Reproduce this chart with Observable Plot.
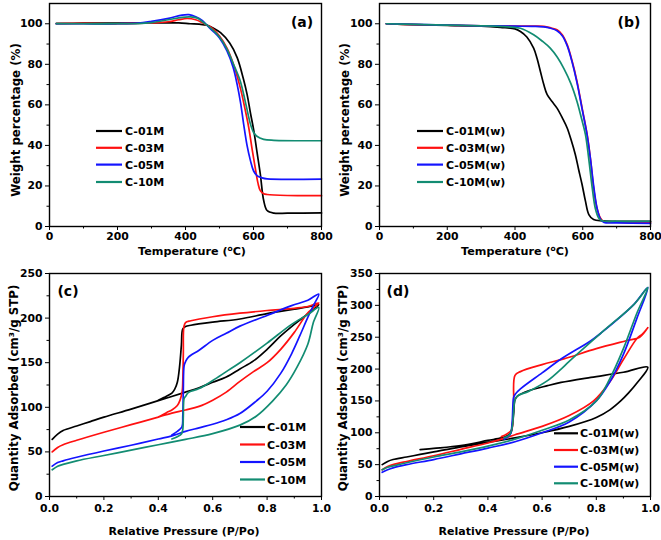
<!DOCTYPE html>
<html>
<head>
<meta charset="utf-8">
<script src="https://cdn.jsdelivr.net/npm/d3@7"></script>
<script src="https://cdn.jsdelivr.net/npm/@observablehq/plot@0.6"></script>
<style>
  body { margin: 0; background: #fff; }
  #root { position: relative; width: 661px; height: 540px; overflow: hidden; background: #fff; }
  #root svg { position: absolute; }
</style>
</head>
<body>
<div id="root"></div>
<script>
// ---------- DATA ----------
const namesA = ["C-01M", "C-03M", "C-05M", "C-10M"];
const namesB = ["C-01M(w)", "C-03M(w)", "C-05M(w)", "C-10M(w)"];

// (a) TGA, temperature (°C) vs weight (%)
const a_C01M = [[20,100.2],[100,100.3],[200,100.3],[300,100.4],[380,100.4],[414,100],[440,99.8],[463,99.3],[480,98],[503,95.6],[530,90.5],[552,83.3],[570,73],[581,65.3],[591,56],[601,47.2],[610,37],[620,25.9],[630,12.8],[640,7.9],[660,6.6],[700,6.6],[800,6.7]];
const a_C03M = [[20,100],[100,100.2],[200,100],[300,100.4],[350,101],[380,102],[405,102.6],[430,102],[450,100.5],[463,99.3],[473,98.5],[500,94],[522,88],[540,80.5],[561,68.5],[575,58],[586,48.8],[596,38],[605,29],[613,21.5],[620,17.7],[630,16.2],[640,15.8],[700,15.3],[800,15.2]];
const a_C05M = [[20,100],[100,100],[200,100],[260,100.3],[300,101.2],[350,102.7],[390,104.3],[410,104.5],[430,103.5],[450,101.5],[463,99.3],[480,96.5],[500,93],[522,86.6],[540,78.5],[552,70],[562,61],[571,50.5],[581,40],[591,32.5],[600,27.5],[611,25],[625,24],[640,23.5],[800,23.4]];
const a_C10M = [[20,100],[100,100],[200,100],[260,100.1],[300,100.6],[350,102],[390,103.2],[415,103.4],[435,102.8],[450,101],[463,99.3],[480,97],[500,93.5],[522,87.5],[540,80.5],[561,71.8],[576,61.5],[591,50.5],[600,46.5],[610,44.5],[630,43],[660,42.5],[800,42.3]];

// (b) TGA of washed samples
const b_C01M = [[20,100],[100,99.6],[200,99.2],[300,98.8],[357,98.2],[400,97.5],[416,96.2],[435,93.5],[455,88],[465,83],[475,76.5],[485,70],[495,65],[510,61.5],[524,58.4],[540,53.5],[554,48.6],[566,42.5],[578,35.5],[588,28],[598,20.7],[608,12.5],[618,5.9],[632,3.4],[660,2.8],[800,2.5]];
const b_C03M = [[20,100],[100,99.6],[200,99.3],[300,99],[400,98.9],[450,98.8],[485,98.7],[505,98],[524,97],[540,94.5],[554,89.7],[568,82],[583,71.6],[598,58.5],[613,45.3],[623,33],[632,19],[642,9],[652,4.2],[662,2.5],[700,2.2],[800,2]];
const b_C05M = [[20,100],[100,99.7],[200,99.3],[300,99],[400,98.8],[450,98.7],[485,98.5],[505,97.8],[524,96.6],[540,94],[554,89.2],[568,81.5],[583,71],[598,58],[613,45],[623,33],[633,19],[643,8.5],[653,3.5],[663,2],[700,1.8],[800,1.5]];
const b_C10M = [[20,100],[100,99.7],[200,99.3],[300,99],[380,98.5],[416,97.8],[455,94.6],[480,91.5],[504,88],[525,83.5],[544,78],[565,70.5],[583,61.7],[596,53.5],[608,45.3],[618,33],[628,19],[637,9],[647,4.2],[657,2.8],[700,2.6],[800,2.6]];

// (c) N2 isotherms, P/Po vs quantity adsorbed (adsorption then desorption)
const c_C01M = [[0.01,64],[0.03,70],[0.05,74],[0.1,79],[0.15,84],[0.2,89],[0.3,98],[0.4,107.5],[0.5,117],[0.55,122],[0.6,128],[0.65,134],[0.7,143],[0.75,152],[0.8,165],[0.85,180],[0.9,193],[0.95,205],[0.99,215],
  [0.95,212.5],[0.9,210],[0.8,205],[0.7,199],[0.6,195.5],[0.52,192],[0.5,190.5],[0.49,188],[0.485,170],[0.478,145],[0.47,128],[0.46,120],[0.45,116],[0.42,111],[0.4,108]];
const c_C03M = [[0.01,50],[0.03,55],[0.05,58],[0.1,63],[0.2,72],[0.3,80.5],[0.4,89],[0.45,93.5],[0.5,97],[0.55,101],[0.6,108],[0.65,117],[0.7,129],[0.75,140],[0.8,150],[0.85,165],[0.9,184],[0.95,206],[0.99,217],
  [0.95,213],[0.9,211],[0.8,208.5],[0.7,205.5],[0.6,201.5],[0.52,197],[0.5,195],[0.494,190],[0.492,160],[0.49,130],[0.488,118],[0.48,108],[0.47,102],[0.45,97],[0.43,94],[0.4,89]];
const c_C05M = [[0.01,34],[0.03,38],[0.05,40],[0.1,44],[0.2,51],[0.3,57.5],[0.4,64.5],[0.45,68],[0.5,73],[0.55,77],[0.6,81],[0.65,86],[0.7,93],[0.76,107],[0.8,118],[0.85,138],[0.89,160],[0.92,180],[0.95,201],[0.97,214],[0.99,227],
  [0.95,220],[0.89,214],[0.8,203],[0.7,191],[0.65,183],[0.6,175],[0.55,164],[0.51,156],[0.5,151],[0.495,146.7],[0.492,120],[0.49,90],[0.487,78],[0.47,73],[0.45,69]];
const c_C10M = [[0.01,30],[0.03,34],[0.05,36],[0.1,40],[0.2,46],[0.3,52],[0.4,58],[0.5,64],[0.6,70.5],[0.7,80],[0.76,90],[0.82,107],[0.87,125],[0.91,145],[0.95,171],[0.97,195],[0.99,212],
  [0.95,204],[0.89,193],[0.8,172],[0.7,150],[0.65,140],[0.6,130],[0.55,121],[0.51,116.5],[0.5,112],[0.495,110],[0.492,90],[0.49,75],[0.485,70],[0.47,67],[0.45,64.5]];

// (d) N2 isotherms of washed samples
const d_C01M = [[0.01,50],[0.03,55],[0.05,58],[0.1,62],[0.15,66],[0.2,70],[0.3,78],[0.4,85],[0.5,92],[0.6,100],[0.7,110],[0.8,124],[0.85,136],[0.89,150],[0.92,163],[0.95,178],[0.99,203],
  [0.9,195],[0.78,187],[0.67,179],[0.62,174],[0.55,166],[0.51,158],[0.5,152],[0.495,130],[0.49,110],[0.485,100],[0.47,95],[0.45,92],[0.4,88],[0.3,80],[0.2,75.5],[0.15,73.5]];
const d_C03M = [[0.01,42],[0.03,47],[0.05,50],[0.1,55],[0.2,64],[0.3,74],[0.4,84],[0.45,90],[0.5,97],[0.6,110],[0.7,127],[0.79,150],[0.85,180],[0.9,215],[0.95,248],[0.97,255],[0.99,265],
  [0.96,250],[0.91,244.5],[0.8,232],[0.68,216],[0.6,207],[0.52,196],[0.5,190],[0.495,150],[0.492,120],[0.488,105],[0.47,98],[0.45,94]];
const d_C05M = [[0.01,38],[0.03,42],[0.05,45],[0.1,50],[0.2,58],[0.3,67],[0.4,76],[0.5,86],[0.6,100],[0.7,117],[0.8,150],[0.85,180],[0.9,223],[0.95,280],[0.99,328],
  [0.94,302],[0.82,257.5],[0.78,244.5],[0.67,215.8],[0.6,194],[0.52,168.8],[0.5,160],[0.495,155.6],[0.49,120],[0.485,100],[0.48,96],[0.46,90]];
const d_C10M = [[0.01,42],[0.03,46],[0.05,48],[0.1,53],[0.2,62],[0.3,70],[0.4,79],[0.5,90],[0.6,104],[0.7,120],[0.8,150],[0.85,185],[0.9,232],[0.95,288],[0.99,328],
  [0.94,302],[0.82,257.5],[0.7,212],[0.67,200],[0.62,181.8],[0.55,165],[0.51,158],[0.5,152],[0.495,135],[0.49,110],[0.48,97],[0.46,92]];

// tick values
const tempTicks = [0, 200, 400, 600, 800];
const tempMinor = [100, 300, 500, 700];
const weightTicks = [0, 20, 40, 60, 80, 100];
const weightMinor = [10, 30, 50, 70, 90];
const presTicks = [0, 0.2, 0.4, 0.6, 0.8, 1.0];
const presMinor = [0.1, 0.3, 0.5, 0.7, 0.9];
const qcTicks = [0, 50, 100, 150, 200, 250];
const qcMinor = [25, 75, 125, 175, 225];
const qdTicks = [0, 50, 100, 150, 200, 250, 300, 350];
const qdMinor = [25, 75, 125, 175, 225, 275, 325];

// ---------- STYLE ----------
const colors = ["#000000", "#ff1010", "#1414ff", "#128c72"];
const FONT = "DejaVu Sans";

function rows(names, arrays) {
  const out = [];
  arrays.forEach((arr, i) => arr.forEach(([x, y]) => out.push({x, y, s: names[i]})));
  return out;
}

const root = document.getElementById("root");

function panel(o) {
  const data = rows(o.names, o.series);
  const svg = Plot.plot({
    width: o.w, height: o.h,
    marginLeft: 49, marginRight: o.mr, marginTop: 3, marginBottom: 44,
    style: {fontFamily: FONT, fontWeight: "bold", fontSize: "10.8px", color: "#000", background: "transparent", overflow: "visible"},
    x: {domain: o.xd, label: null},
    y: {domain: o.yd, label: null},
    color: {domain: o.names, range: colors},
    marks: [
      Plot.axisX({ticks: o.xt, tickSize: 4, tickPadding: o.xp, tickFormat: o.xf, label: null}),
      Plot.axisX({ticks: o.xm, tickSize: 2.5, tickFormat: () => "", label: null}),
      Plot.axisY({ticks: o.yt, tickSize: 4, tickPadding: 3, label: null}),
      Plot.axisY({ticks: o.ym, tickSize: 2.5, tickFormat: () => "", label: null}),
      Plot.line(data, {x: "x", y: "y", z: "s", stroke: "s", strokeWidth: 1.7, curve: "catmull-rom"}),
      Plot.frame({stroke: "#000", strokeWidth: 1.4})
    ]
  });
  svg.style.left = o.left + "px";
  svg.style.top = o.top + "px";
  root.append(svg);
}

panel({left: 0, top: 0, w: 330, h: 270, mr: 9, xd: [0, 800], yd: [0, 110], xt: tempTicks, xm: tempMinor, xp: 1.5, yt: weightTicks, ym: weightMinor,
  names: namesA, series: [a_C01M, a_C03M, a_C05M, a_C10M]});
panel({left: 330, top: 0, w: 331, h: 270, mr: 11, xd: [0, 800], yd: [0, 110], xt: tempTicks, xm: tempMinor, xp: 1.5, yt: weightTicks, ym: weightMinor,
  names: namesB, series: [b_C01M, b_C03M, b_C05M, b_C10M]});
panel({left: 0, top: 270, w: 330, h: 270, mr: 9, xd: [0, 1], yd: [0, 250], xt: presTicks, xm: presMinor, xp: 4, xf: d3.format(".1f"), yt: qcTicks, ym: qcMinor,
  names: namesA, series: [c_C01M, c_C03M, c_C05M, c_C10M]});
panel({left: 330, top: 270, w: 331, h: 270, mr: 11, xd: [0, 1], yd: [0, 350], xt: presTicks, xm: presMinor, xp: 4, xf: d3.format(".1f"), yt: qdTicks, ym: qdMinor,
  names: namesB, series: [d_C01M, d_C03M, d_C05M, d_C10M]});

// ---------- overlay: titles, panel labels, legends ----------
const ns = "http://www.w3.org/2000/svg";
const ov = document.createElementNS(ns, "svg");
ov.setAttribute("width", 661); ov.setAttribute("height", 540);
ov.style.left = "0px"; ov.style.top = "0px"; ov.style.pointerEvents = "none";
ov.setAttribute("font-family", FONT); ov.setAttribute("font-weight", "bold");
root.append(ov);

function txt(x, y, content, size, anchor = "middle", rotate = false) {
  const t = document.createElementNS(ns, "text");
  t.setAttribute("font-size", size);
  t.setAttribute("text-anchor", anchor);
  t.setAttribute("fill", "#000");
  if (rotate) t.setAttribute("transform", `translate(${x},${y}) rotate(-90)`);
  else { t.setAttribute("x", x); t.setAttribute("y", y); }
  t.innerHTML = content;
  ov.append(t);
  return t;
}

const tempLabel = 'Temperature (<tspan dy="-4.5" font-size="7.5">o</tspan><tspan dy="4.5">C)</tspan>';
const weightLabel = "Weight percentage (%)";
const presLabel = "Relative Pressure (P/Po)";
const qLabel = "Quantity Adsorbed (cm³/g STP)";

txt(192, 255, tempLabel, 11.2);
txt(515, 255, tempLabel, 11.2);
txt(184, 535, presLabel, 11);
txt(514, 535, presLabel, 11);
txt(20, 120, weightLabel, 11.8, "middle", true);
txt(349, 120, weightLabel, 11.8, "middle", true);
txt(18, 388, qLabel, 11.8, "middle", true);
txt(347, 388, qLabel, 11.8, "middle", true);

txt(302, 27, "(a)", 14);
txt(629, 27, "(b)", 14);
txt(68, 296, "(c)", 14);
txt(398, 296, "(d)", 14);

function legend(names, x1, x2, tx, ys) {
  names.forEach((n, i) => {
    const l = document.createElementNS(ns, "line");
    l.setAttribute("x1", x1); l.setAttribute("x2", x2);
    l.setAttribute("y1", ys[i]); l.setAttribute("y2", ys[i]);
    l.setAttribute("stroke", colors[i]); l.setAttribute("stroke-width", 2.2);
    ov.append(l);
    const t = txt(tx, ys[i], n, 11, "start");
    t.setAttribute("dy", "0.37em");
  });
}
legend(namesA, 96, 122, 125, [131, 147.8, 164.6, 182]);
legend(namesB, 417, 443, 446, [131, 147.8, 164.6, 182]);
legend(namesA, 240, 265, 267, [427, 444.5, 462, 479.5]);
legend(namesB, 554, 578, 580, [433.3, 450, 466.7, 483.3]);
</script>
</body>
</html>
